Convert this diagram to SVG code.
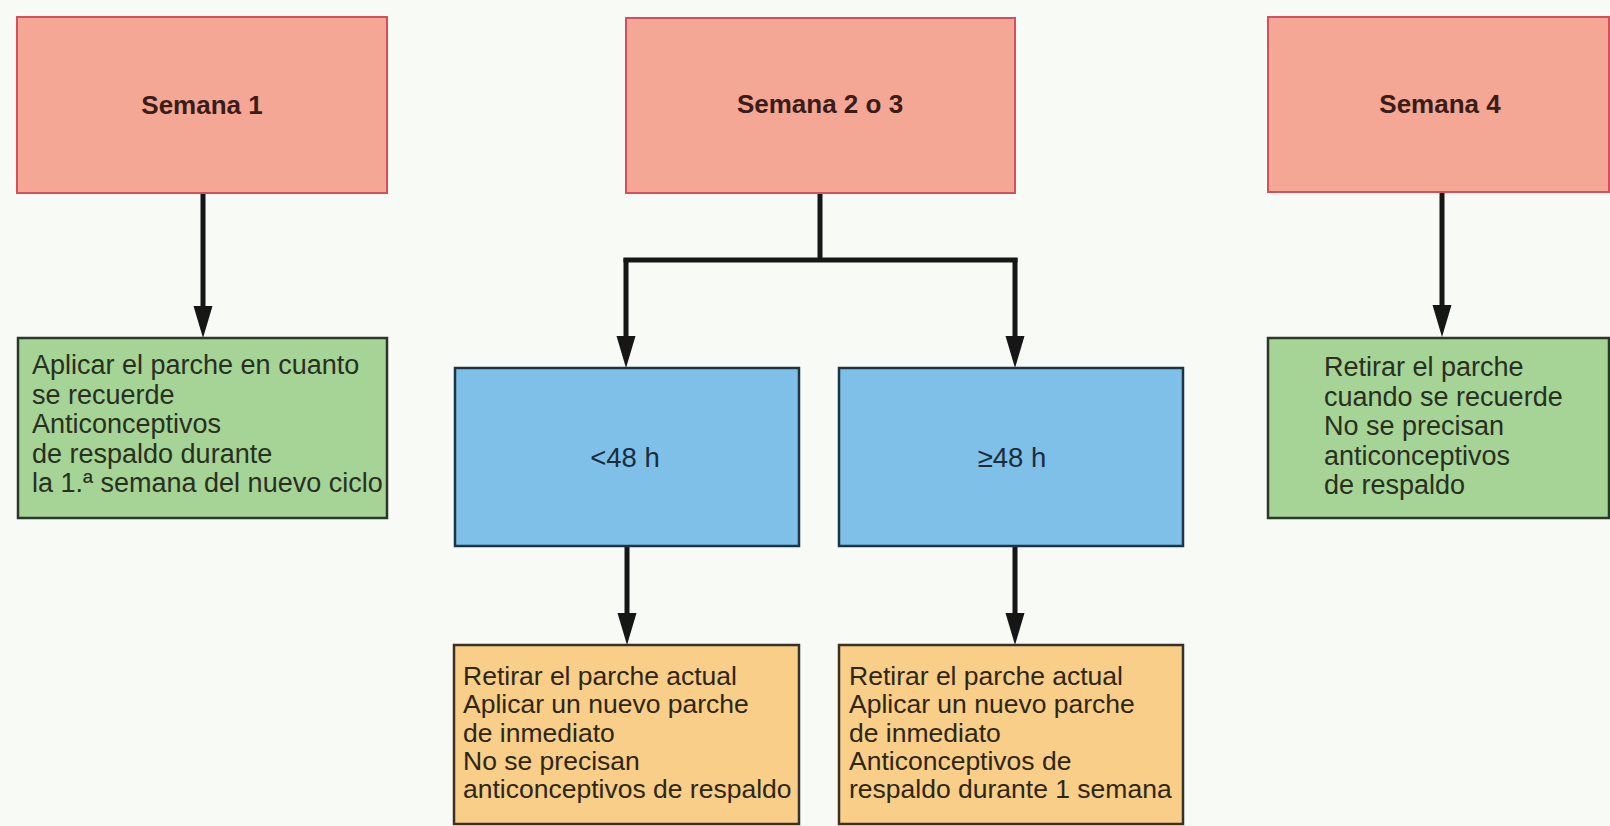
<svg xmlns="http://www.w3.org/2000/svg" width="1610" height="826" viewBox="0 0 1610 826">
<defs>
<style>
.bg{fill:#f8faf5}
.red{fill:#f4a794;stroke:#d5505c;stroke-width:2}
.green{fill:#a6d396;stroke:#2c372b;stroke-width:2.5}
.blue{fill:#7ec0e8;stroke:#1e3446;stroke-width:2.5}
.yellow{fill:#f8ce88;stroke:#3a3024;stroke-width:2.5}
.title{font-family:"Liberation Sans",Arial,sans-serif;font-weight:bold;font-size:26px;fill:#3b1c18;text-anchor:middle}
.body{font-family:"Liberation Sans",Arial,sans-serif;font-size:27px;fill:#28301f}
.ybody{font-family:"Liberation Sans",Arial,sans-serif;font-size:26.5px;fill:#2e2616}
.btxt{font-family:"Liberation Sans",Arial,sans-serif;font-size:27.5px;fill:#1b2c3a;text-anchor:middle}
.conn{fill:none;stroke:#161616;stroke-width:5}
</style>
<marker id="ah" markerUnits="userSpaceOnUse" markerWidth="34" markerHeight="22" viewBox="0 -11 34 22" refX="0" refY="0" orient="auto">
<path d="M0,-9.5 L32,0 L0,9.5 Z" fill="#161616"/>
</marker>
</defs>
<rect class="bg" x="0" y="0" width="1610" height="826"/>

<g id="connectors">
<path class="conn" d="M203,193 V306" marker-end="url(#ah)"/>
<path class="conn" d="M1442,193 V305" marker-end="url(#ah)"/>
<path class="conn" d="M820,193 V260"/>
<path class="conn" d="M626,260 H1015" stroke-linecap="square"/>
<path class="conn" d="M626,258 V336" marker-end="url(#ah)"/>
<path class="conn" d="M1015,258 V336" marker-end="url(#ah)"/>
<path class="conn" d="M627,546 V613" marker-end="url(#ah)"/>
<path class="conn" d="M1015,546 V613" marker-end="url(#ah)"/>
</g>

<g id="semana1">
<rect class="red" x="17" y="17" width="370" height="176"/>
<text class="title" x="202" y="114">Semana 1</text>
</g>
<g id="semana23">
<rect class="red" x="626" y="18" width="389" height="175"/>
<text class="title" x="820" y="113">Semana 2 o 3</text>
</g>
<g id="semana4">
<rect class="red" x="1268" y="17" width="341" height="175"/>
<text class="title" x="1440" y="113">Semana 4</text>
</g>

<g id="accion1">
<rect class="green" x="18" y="338" width="369" height="180"/>
<text class="body" x="32" y="374">Aplicar el parche en cuanto</text>
<text class="body" x="32" y="403.5">se recuerde</text>
<text class="body" x="32" y="433">Anticonceptivos</text>
<text class="body" x="32" y="462.5">de respaldo durante</text>
<text class="body" x="32" y="492">la 1.ª semana del nuevo ciclo</text>
</g>

<g id="accion4">
<rect class="green" x="1268" y="338" width="341" height="180"/>
<text class="body" x="1324" y="376">Retirar el parche</text>
<text class="body" x="1324" y="405.5">cuando se recuerde</text>
<text class="body" x="1324" y="435">No se precisan</text>
<text class="body" x="1324" y="464.5">anticonceptivos</text>
<text class="body" x="1324" y="494">de respaldo</text>
</g>

<g id="menos48">
<rect class="blue" x="455" y="368" width="344" height="178"/>
<text class="btxt" x="625" y="467">&lt;48 h</text>
</g>
<g id="mas48">
<rect class="blue" x="839" y="368" width="344" height="178"/>
<text class="btxt" x="1012" y="467">≥48 h</text>
</g>

<g id="accionMenos48">
<rect class="yellow" x="454" y="645" width="345" height="179"/>
<text class="ybody" x="463" y="685">Retirar el parche actual</text>
<text class="ybody" x="463" y="713.3">Aplicar un nuevo parche</text>
<text class="ybody" x="463" y="741.6">de inmediato</text>
<text class="ybody" x="463" y="769.9">No se precisan</text>
<text class="ybody" x="463" y="798.2">anticonceptivos de respaldo</text>
</g>
<g id="accionMas48">
<rect class="yellow" x="839" y="645" width="344" height="179"/>
<text class="ybody" x="849" y="685">Retirar el parche actual</text>
<text class="ybody" x="849" y="713.3">Aplicar un nuevo parche</text>
<text class="ybody" x="849" y="741.6">de inmediato</text>
<text class="ybody" x="849" y="769.9">Anticonceptivos de</text>
<text class="ybody" x="849" y="798.2">respaldo durante 1 semana</text>
</g>
</svg>
